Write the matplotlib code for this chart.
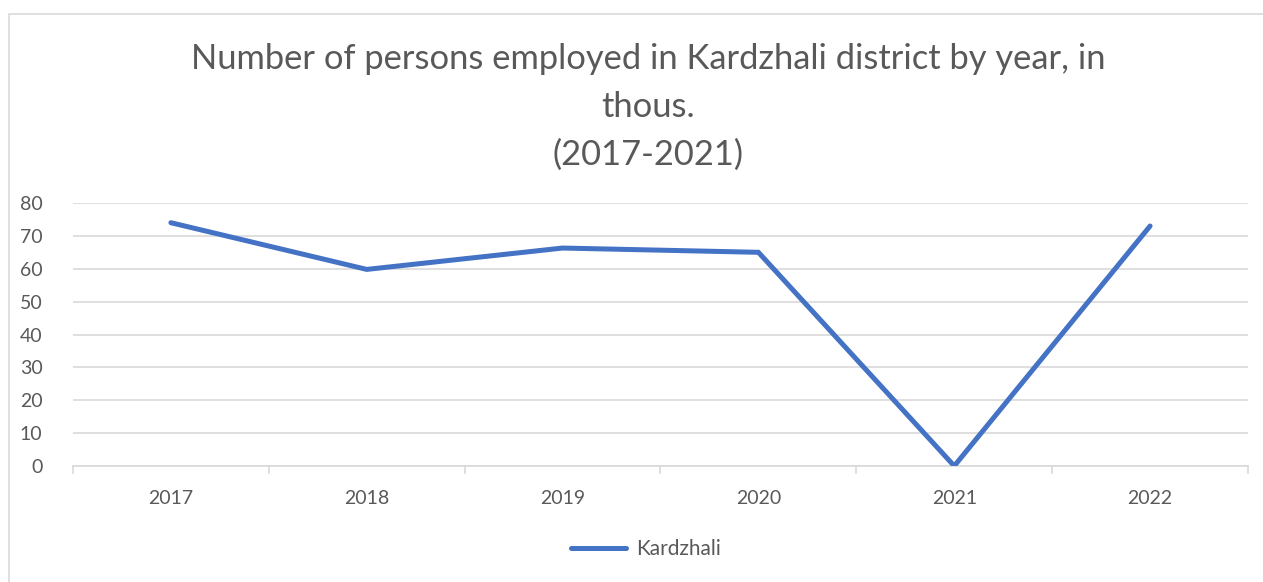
import matplotlib.pyplot as plt
from matplotlib.patches import Rectangle
from matplotlib.lines import Line2D
import numpy as np

# data
years = ['2017', '2018', '2019', '2020', '2021', '2022']
employed = [74.0, 59.8, 66.3, 65.0, 0.0, 73.0]
y_ticks = [0, 10, 20, 30, 40, 50, 60, 70, 80]

title = 'Number of persons employed in Kardzhali district by year, in\nthous.\n(2017-2021)'
series_name = 'Kardzhali'

line_color = '#4472C4'
text_color = '#595959'
grid_color = '#D9D9D9'

plt.rcParams['font.family'] = ['Lato', 'DejaVu Sans']

W, H = 1263, 582
fig = plt.figure(figsize=(W / 100, H / 100), dpi=100)

# outer chart border
fig.patches.append(Rectangle((9 / W, -0.1), 1.1, 1 - 14 / H + 0.1,
                             transform=fig.transFigure, fill=False,
                             edgecolor=grid_color, linewidth=1.2))

ax = fig.add_axes([73 / W, 1 - 466 / H, (1248 - 73) / W, (466 - 203) / H])

x = np.arange(len(years))
ax.plot(x, employed, color=line_color, linewidth=3.6,
        solid_capstyle='round', solid_joinstyle='miter', zorder=3)

ax.set_xlim(-0.5, len(years) - 0.5)
ax.set_ylim(0, 80)
ax.set_yticks(y_ticks)
ax.yaxis.grid(True, color=grid_color, linewidth=1.2)
ax.set_axisbelow(True)

# category labels at centers, tick marks at boundaries
ax.set_xticks(x)
ax.set_xticklabels(years)
ax.set_xticks(np.arange(-0.5, len(years)), minor=True)
ax.tick_params(axis='x', which='major', length=0, pad=17,
               labelsize=14, labelcolor=text_color)
ax.tick_params(axis='x', which='minor', length=6, width=1.2, color=grid_color)
ax.tick_params(axis='y', length=0, pad=22, labelsize=14, labelcolor=text_color)

for side in ['top', 'right', 'left']:
    ax.spines[side].set_visible(False)
ax.spines['bottom'].set_color(grid_color)
ax.spines['bottom'].set_linewidth(1.2)

fig.text(648 / W, 1 - 107 / H, title, ha='center', va='center',
         fontsize=24.8, color=text_color, linespacing=1.6)

handle = Line2D([], [], color=line_color, linewidth=3.6, solid_capstyle='round')
fig.legend([handle], [series_name], loc='center', bbox_to_anchor=(646 / W, 1 - 549 / H),
           frameon=False, fontsize=15, labelcolor=text_color,
           handlelength=2.6, handletextpad=0.5)

fig.savefig('out.png', dpi=100)
